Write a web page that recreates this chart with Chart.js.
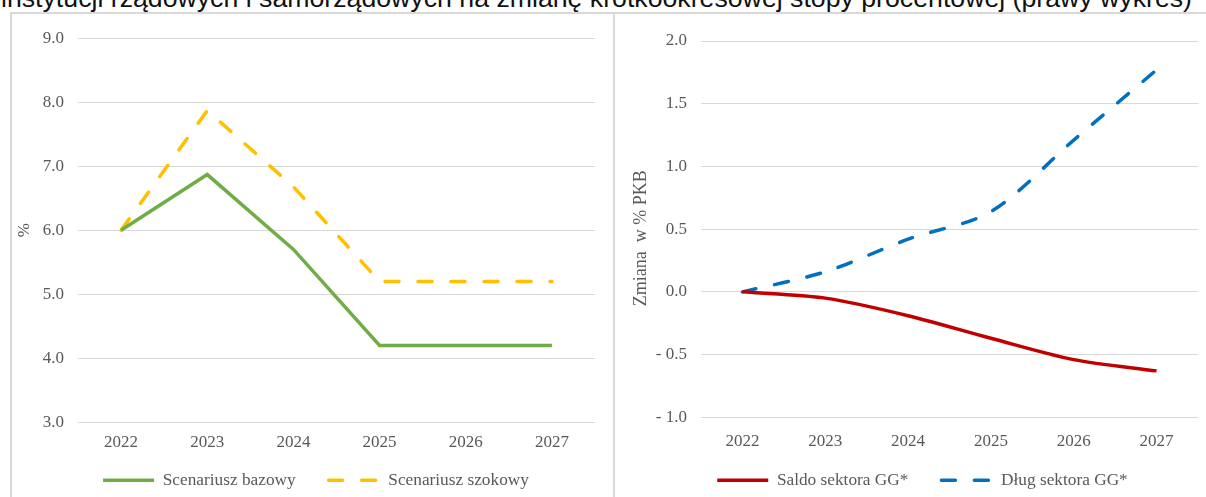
<!DOCTYPE html>
<html>
<head>
<meta charset="utf-8">
<script src="https://cdn.jsdelivr.net/npm/chart.js@4"></script>
<style>
  body { margin: 0; width: 1206px; height: 497px; overflow: hidden; background: #fff; position: relative; }
  #title { position: absolute; left: 1px; top: -15px; font-family: "Liberation Sans", Arial, sans-serif; font-size: 26.7px; line-height: 27px; color: #111; white-space: nowrap; }
  .panel { position: absolute; top: 12px; height: 500px; border: 2px solid #d9d9d9; box-sizing: border-box; }
  #leftPanel { left: 10px; width: 605px; }
  #rightPanel { left: 613px; width: 620px; }
  .box { position: absolute; top: 14px; }
  #leftBox { left: 12px; width: 601px; height: 509px; }
  #rightBox { left: 616px; width: 612px; height: 512px; }
</style>
</head>
<body>
<div id="title">instytucji rządowych i samorządowych na zmianę krótkookresowej stopy procentowej (prawy wykres)</div>
<div class="panel" id="leftPanel"></div>
<div class="panel" id="rightPanel"></div>
<div class="box" id="leftBox"><canvas id="leftChart"></canvas></div>
<div class="box" id="rightBox"><canvas id="rightChart"></canvas></div>
<script>
let years = ["2022", "2023", "2024", "2025", "2026", "2027"];

let bazowy = [6.0, 6.87, 5.7, 4.2, 4.2, 4.2];
let szokowy = [6.0, 7.87, 6.68, 5.2, 5.2, 5.2];

let saldo = [0, -0.05, -0.19, -0.37, -0.54, -0.63];
let dlug = [0, 0.16, 0.42, 0.64, 1.21, 1.77];

let textColor = "#595959";
let serif = "'Liberation Serif', 'Times New Roman', serif";

Chart.defaults.font.family = serif;
Chart.defaults.font.size = 17;
Chart.defaults.color = textColor;

// legend padding also sets the gap between items, so pull the legend up after layout
let legendShift = {
  id: "legendShift",
  afterLayout(chart, args, opts) {
    chart.legend.top -= opts.dy;
    chart.legend.bottom -= opts.dy;
  }
};

// point-style legend items lose the dataset dash, put it back
function legendLabels(chart) {
  let items = Chart.defaults.plugins.legend.labels.generateLabels(chart);
  items.forEach(it => {
    let ds = chart.data.datasets[it.datasetIndex];
    it.lineDash = ds.borderDash || [];
    it.lineCap = ds.borderCapStyle || "butt";
    it.lineWidth = ds.borderWidth;
  });
  return items;
}

// s = layout/axis settings for one panel
function lineOptions(s, fmt) {
  return {
    responsive: true,
    maintainAspectRatio: false,
    animation: false,
    layout: { padding: s.pad },
    plugins: {
      tooltip: { enabled: false },
      legendShift: { dy: s.legendDy },
      legend: {
        position: "bottom",
        labels: {
          usePointStyle: true,
          pointStyle: "line",
          pointStyleWidth: 51,
          boxHeight: 17,
          padding: 33,
          color: textColor,
          font: { size: 17.3 },
          generateLabels: legendLabels
        }
      }
    },
    scales: {
      x: {
        offset: true,
        grid: { display: false, drawTicks: false },
        border: { display: false },
        ticks: { padding: s.xPad, font: { size: 17 } }
      },
      y: {
        min: s.min,
        max: s.max,
        grid: { color: "#d9d9d9", lineWidth: 1, drawTicks: false },
        border: { display: false },
        ticks: { stepSize: s.step, padding: 14, callback: fmt, font: { size: 17 } },
        title: { display: true, text: s.title, font: { size: s.titleSize }, padding: { top: s.titleOff, bottom: 0 } },
        afterFit: function (axis) { axis.width = s.yWidth; }
      }
    }
  };
}

function fmtLeft(v) { return v.toFixed(1); }
function fmtRight(v) {
  if (Math.abs(v) < 1e-9) return "0.0";
  return v < 0 ? "- " + Math.abs(v).toFixed(1) : v.toFixed(1);
}

new Chart(document.getElementById("leftChart"), {
  type: "line",
  data: {
    labels: years,
    datasets: [
      {
        label: "Scenariusz bazowy",
        data: bazowy,
        borderColor: "#70ad47",
        backgroundColor: "#70ad47",
        borderWidth: 3.5,
        pointRadius: 0,
        tension: 0
      },
      {
        label: "Scenariusz szokowy",
        data: szokowy,
        borderColor: "#ffc000",
        backgroundColor: "#ffc000",
        borderWidth: 3.5,
        borderDash: [14, 19],
        borderCapStyle: "round",
        pointRadius: 0,
        tension: 0
      }
    ]
  },
  options: lineOptions({
    min: 3, max: 9, step: 1, title: "%", titleSize: 17, titleOff: -23,
    yWidth: 41, xPad: 10, legendDy: 24,
    pad: { top: 20, right: 18, left: 25, bottom: 0 }
  }, fmtLeft),
  plugins: [legendShift]
});

new Chart(document.getElementById("rightChart"), {
  type: "line",
  data: {
    labels: years,
    datasets: [
      {
        label: "Saldo sektora GG*",
        data: saldo,
        borderColor: "#c00000",
        backgroundColor: "#c00000",
        borderWidth: 3.5,
        pointRadius: 0,
        tension: 0.3
      },
      {
        label: "Dług sektora GG*",
        data: dlug,
        borderColor: "#0070c0",
        backgroundColor: "#0070c0",
        borderWidth: 3.5,
        borderDash: [14, 19],
        borderCapStyle: "round",
        pointRadius: 0,
        tension: 0.3
      }
    ]
  },
  options: lineOptions({
    min: -1, max: 2, step: 0.5, title: "Zmiana  w % PKB    ", titleSize: 18, titleOff: -17,
    yWidth: 54, xPad: 14, legendDy: 27,
    pad: { top: 27, right: 30, left: 31, bottom: 0 }
  }, fmtRight),
  plugins: [legendShift]
});
</script>
</body>
</html>
